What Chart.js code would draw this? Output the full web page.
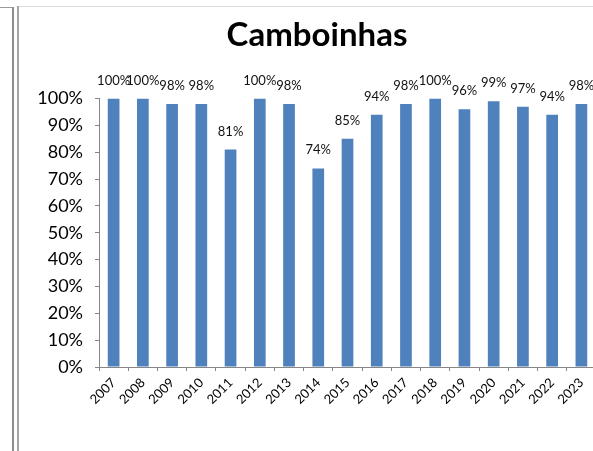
<!DOCTYPE html>
<html>
<head>
<meta charset="utf-8">
<script src="https://cdn.jsdelivr.net/npm/chart.js@4.4.1/dist/chart.umd.min.js"></script>
<style>
  html, body { margin: 0; padding: 0; background: #fff; overflow: hidden; }
  #wrap { position: relative; width: 593px; height: 451px; overflow: hidden; background: #fff; }
  #wrap canvas { position: absolute; left: 0; top: 0; }
  .rule { position: absolute; }
</style>
</head>
<body>
<div id="wrap">
  <canvas id="chart" width="600" height="451"></canvas>
  <!-- frame lines from the spreadsheet page -->
  <div class="rule" style="left:0;top:7px;width:12px;height:1px;background:#9a9a9a"></div>
  <div class="rule" style="left:12px;top:7px;width:2px;bottom:0;background:#8e8e8e"></div>
  <div class="rule" style="left:17px;top:6px;width:2px;bottom:0;background:#a6a6a6"></div>
  <div class="rule" style="left:19px;top:6px;right:0;height:1px;background:#dcdcdc"></div>
</div>
<script>
'use strict';

/* Camboinhas: percentual por ano (2007-2023) */
const YEARS = ['2007', '2008', '2009', '2010', '2011', '2012', '2013', '2014', '2015',
  '2016', '2017', '2018', '2019', '2020', '2021', '2022', '2023'];
const VALUES = [100, 100, 98, 98, 81, 100, 98, 74, 85, 94, 98, 100, 96, 99, 97, 94, 98];
const Y_TICK_STEP = 10;
const Y_MAX = 100;

const FONT = 'Lato, Carlito, "Liberation Sans", sans-serif';
const AXIS_GRAY = '#868686';
const BAR_BLUE = '#4f81bd';

// rótulos de valor acima de cada barra (sem plugin externo)
const valueLabels = {
  id: 'valueLabels',
  afterDatasetsDraw(chart) {
    const { ctx } = chart;
    const meta = chart.getDatasetMeta(0);
    ctx.save();
    ctx.font = `13px ${FONT}`;
    ctx.fillStyle = '#111';
    ctx.textAlign = 'center';
    ctx.textBaseline = 'alphabetic';
    meta.data.forEach((bar, i) => {
      ctx.fillText(`${VALUES[i]}%`, bar.x, bar.y - 14);
    });
    ctx.restore();
  },
};

new Chart(document.getElementById('chart'), {
  type: 'bar',
  data: {
    labels: YEARS,
    datasets: [{
      data: VALUES,
      backgroundColor: BAR_BLUE,
      borderWidth: 0,
      barPercentage: 0.4,
      categoryPercentage: 1,
    }],
  },
  options: {
    responsive: false,
    animation: false,
    devicePixelRatio: 1,
    layout: { padding: { left: 38, right: 4, top: 0, bottom: 0 } },
    plugins: {
      legend: { display: false },
      tooltip: { enabled: false },
      title: {
        display: true,
        text: 'Camboinhas',
        color: '#000',
        font: { family: FONT, size: 33, weight: 'bold' },
        padding: { top: 16, bottom: 43 },
      },
    },
    scales: {
      x: {
        afterFit: s => { s.height = 84; },
        grid: { offset: true, drawOnChartArea: false, tickLength: 4, color: AXIS_GRAY },
        border: { color: AXIS_GRAY },
        ticks: {
          autoSkip: false,
          minRotation: 45,
          maxRotation: 45,
          padding: 4,
          color: '#000',
          font: { family: FONT, size: 13 },
        },
      },
      y: {
        min: 0,
        max: Y_MAX,
        afterFit: s => { s.width = 61; },
        grid: { drawOnChartArea: false, tickLength: 4, color: AXIS_GRAY },
        border: { color: AXIS_GRAY },
        ticks: {
          stepSize: Y_TICK_STEP,
          padding: 12,
          color: '#000',
          font: { family: FONT, size: 18 },
          callback: v => `${v}%`,
        },
      },
    },
  },
  plugins: [valueLabels],
});
</script>
</body>
</html>
